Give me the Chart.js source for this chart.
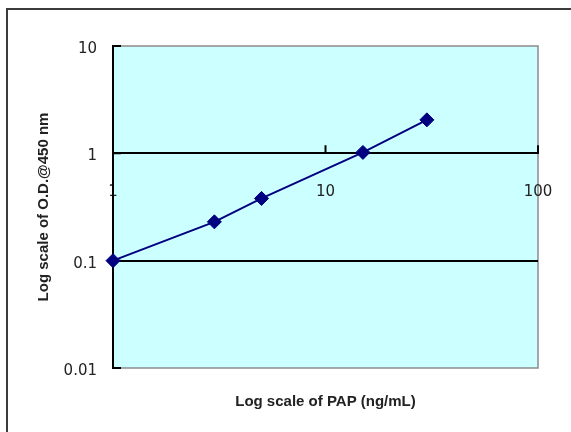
<!DOCTYPE html>
<html>
<head>
<meta charset="utf-8">
<script src="https://cdn.jsdelivr.net/npm/chart.js@4/dist/chart.umd.min.js"></script>
<style>
  html, body { margin: 0; padding: 0; background: #fff; }
  canvas { display: block; }
</style>
</head>
<body>
<canvas id="stdCurve" width="571" height="432"></canvas>
<script>
// Curva estándar PAP (log-log)
const papConc = [1, 3, 5, 15, 30];
const odValues = [0.1, 0.23, 0.38, 1.02, 2.05];
const xTicks = [1, 10, 100];
const yTicks = [0.01, 0.1, 1, 10];

const ink = '#222';
const tickFont = { family: 'DejaVu Sans', size: 15 };
const titleFont = { family: 'Liberation Sans', size: 15, weight: 'bold' };

// fondo, marco exterior y marcas de eje
const plotFrame = {
    id: 'plotFrame',
    beforeDraw(chart) {
        const { ctx, chartArea: a } = chart;
        ctx.save();
        ctx.fillStyle = '#fff';
        ctx.fillRect(0, 0, chart.width, chart.height);
        ctx.strokeStyle = '#3c3c3c';
        ctx.lineWidth = 2;
        ctx.beginPath();
        ctx.moveTo(7, chart.height + 5);
        ctx.lineTo(7, 9);
        ctx.lineTo(chart.width + 5, 9);
        ctx.stroke();
        ctx.fillStyle = '#ccffff';
        ctx.fillRect(a.left, a.top, a.width, a.height);
        ctx.strokeStyle = '#8c8c8c';
        ctx.lineWidth = 1.5;
        ctx.strokeRect(a.left, a.top, a.width, a.height);
        ctx.restore();
    },
    beforeDatasetsDraw(chart) {
        const { ctx, chartArea: a, scales } = chart;
        ctx.save();
        ctx.strokeStyle = '#000';
        ctx.lineWidth = 2;
        ctx.beginPath();
        yTicks.forEach(v => {
            const py = scales.y.getPixelForValue(v);
            ctx.moveTo(a.left, py);
            ctx.lineTo(a.left + 8, py);
        });
        const axisY = scales.y.getPixelForValue(1);
        xTicks.forEach(v => {
            const px = scales.x.getPixelForValue(v);
            ctx.moveTo(px, axisY);
            ctx.lineTo(px, axisY - 8);
        });
        ctx.stroke();
        ctx.restore();
    }
};

new Chart(document.getElementById('stdCurve'), {
    type: 'line',
    data: {
        datasets: [{
            data: papConc.map((x, i) => ({ x: x, y: odValues[i] })),
            borderColor: '#000080',
            backgroundColor: '#000080',
            borderWidth: 2,
            pointStyle: 'rectRot',
            pointRadius: 7,
            pointBorderWidth: 1,
            tension: 0,
            clip: false
        }]
    },
    options: {
        responsive: false,
        animation: false,
        layout: { padding: { left: 0, top: 46, right: 33, bottom: 0 } },
        plugins: {
            legend: { display: false },
            tooltip: { enabled: false }
        },
        scales: {
            x: {
                type: 'logarithmic',
                min: 1,
                max: 100,
                position: { y: 1 },
                afterBuildTicks: s => { s.ticks = xTicks.map(v => ({ value: v })); },
                afterFit: s => { s.paddingLeft = 0; s.paddingRight = 0; },
                ticks: {
                    color: ink,
                    font: tickFont,
                    padding: 30,
                    callback: v => String(v)
                },
                grid: { drawOnChartArea: false, drawTicks: false },
                border: { display: true, color: '#000', width: 2 }
            },
            x2: {
                type: 'logarithmic',
                min: 1,
                max: 100,
                position: 'bottom',
                afterFit: s => { s.height = 64; s.paddingLeft = 0; s.paddingRight = 0; },
                ticks: { display: false },
                grid: { display: false },
                border: { display: false },
                title: {
                    display: true,
                    text: 'Log scale of PAP (ng/mL)',
                    color: ink,
                    font: titleFont,
                    padding: { top: 0, bottom: 21 }
                }
            },
            y: {
                type: 'logarithmic',
                min: 0.01,
                max: 10,
                afterFit: s => { s.width = 113; },
                afterBuildTicks: s => { s.ticks = yTicks.map(v => ({ value: v })); },
                ticks: {
                    color: ink,
                    font: tickFont,
                    padding: 16,
                    labelOffset: 3,
                    callback: v => String(v)
                },
                grid: {
                    drawTicks: false,
                    lineWidth: 2,
                    color: c => (c.tick && (c.tick.value === 1 || c.tick.value === 0.1)) ? '#000' : 'rgba(0,0,0,0)'
                },
                border: { display: true, color: '#000', width: 2 },
                title: {
                    display: true,
                    text: 'Log scale of O.D.@450 nm',
                    color: ink,
                    font: titleFont,
                    padding: { top: 35, bottom: 0 }
                }
            }
        }
    },
    plugins: [plotFrame]
});
</script>
</body>
</html>
